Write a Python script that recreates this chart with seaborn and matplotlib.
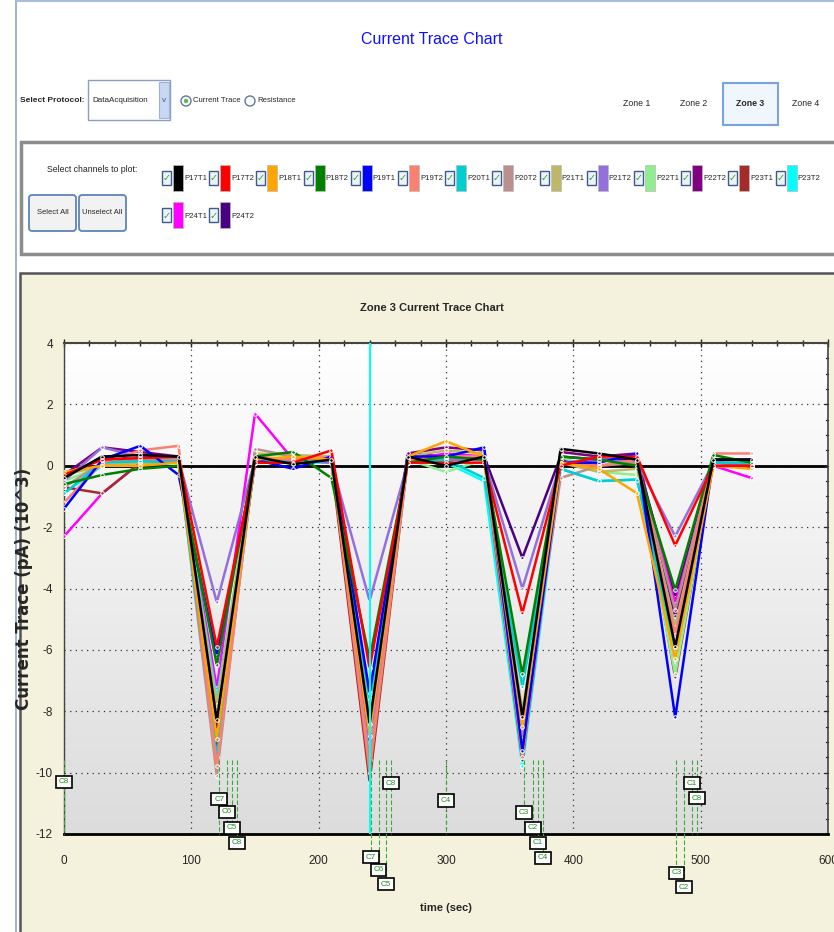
import numpy as np
import pandas as pd
import seaborn as sns
import matplotlib.pyplot as plt
from matplotlib.patches import Rectangle, FancyBboxPatch, Circle
from matplotlib.colors import LinearSegmentedColormap

# sample times (sec)
times = [0, 30, 60, 90, 120, 150, 180, 210, 240, 270, 300, 330, 360, 390, 420, 450, 480, 510, 540]

channels = ['P17T1', 'P17T2', 'P18T1', 'P18T2', 'P19T1', 'P19T2', 'P20T1', 'P20T2',
            'P21T1', 'P21T2', 'P22T1', 'P22T2', 'P23T1', 'P23T2', 'P24T1', 'P24T2']
colors = ['#000000', '#FF0000', '#FFA500', '#008000', '#0000FF', '#FA8072', '#00CED1', '#BC8F8F',
          '#BDB76B', '#9370DB', '#90EE90', '#800080', '#A52A2A', '#00FFFF', '#FF00FF', '#4B0082']

# current trace per channel (pA x 10^3)
p17t1 = [-0.4, 0.3, 0.35, 0.3, -8.3, 0.3, 0.05, 0.2, -8.4, 0.3, 0.0, 0.3, -8.2, 0.55, 0.4, 0.2, -5.9, 0.2, 0.2]
p17t2 = [-0.3, 0.2, 0.25, 0.3, -5.9, 0.1, 0.1, 0.5, -6.6, 0.1, 0.1, 0.1, -4.8, 0.0, 0.3, 0.3, -2.6, 0.0, 0.0]
p18t1 = [-0.2, 0.0, 0.0, 0.1, -8.9, 0.2, 0.3, 0.2, -8.8, 0.3, 0.8, 0.3, -8.5, 0.1, -0.1, -0.9, -6.3, 0.0, -0.1]
p18t2 = [-0.6, -0.3, -0.1, 0.0, -6.5, 0.3, 0.45, -0.4, -6.3, 0.1, 0.3, 0.2, -6.8, 0.3, 0.2, 0.0, -4.05, 0.35, 0.1]
p19t1 = [-1.4, 0.2, 0.65, -0.3, -6.2, 0.2, -0.1, 0.3, -7.4, 0.3, 0.3, 0.6, -9.3, 0.1, 0.1, 0.4, -8.2, 0.2, 0.2]
p19t2 = [-1.2, 0.1, 0.5, 0.65, -9.8, 0.3, 0.2, 0.3, -10.0, 0.2, 0.3, 0.3, -9.5, 0.1, 0.0, 0.2, -5.5, 0.4, 0.4]
p20t1 = [-0.9, 0.1, 0.15, 0.1, -9.5, 0.2, 0.1, 0.2, -7.6, 0.1, 0.2, -0.4, -7.2, -0.1, -0.5, -0.45, -6.0, 0.1, 0.1]
p20t2 = [-0.7, 0.1, 0.2, 0.2, -10.1, 0.55, 0.3, 0.2, -9.6, 0.2, 0.3, 0.3, -8.9, -0.4, 0.0, 0.1, -4.7, 0.2, 0.2]
p21t1 = [-0.3, 0.0, 0.1, 0.1, -7.8, 0.4, 0.35, 0.3, -8.1, 0.3, 0.5, 0.4, -8.0, 0.1, -0.2, -0.1, -5.25, 0.2, 0.1]
p21t2 = [-0.5, 0.6, 0.3, 0.2, -4.45, 0.2, 0.2, 0.1, -4.4, 0.1, 0.2, 0.2, -4.0, 0.1, 0.2, 0.1, -2.3, 0.1, 0.0]
p22t1 = [-0.5, 0.0, 0.1, 0.1, -8.0, 0.2, 0.2, 0.1, -8.6, 0.2, -0.2, 0.2, -8.7, 0.3, -0.2, -0.3, -6.8, 0.1, 0.0]
p22t2 = [-0.3, 0.6, 0.45, 0.3, -8.6, 0.1, 0.1, 0.2, -8.2, 0.4, 0.6, 0.5, -8.4, 0.45, 0.3, 0.4, -4.9, 0.1, 0.1]
p23t1 = [-0.7, -0.9, 0.1, 0.1, -9.2, 0.2, 0.2, 0.1, -10.3, 0.2, 0.2, 0.2, -9.6, 0.2, 0.0, 0.1, -6.9, 0.1, 0.1]
p23t2 = [-0.9, 0.0, 0.1, 0.1, -7.6, 0.1, 0.1, 0.1, -7.9, 0.1, 0.1, -0.5, -9.8, -0.1, -0.5, -0.45, -5.0, 0.1, 0.1]
p24t1 = [-2.3, -0.9, 0.1, 0.1, -7.25, 1.7, 0.2, 0.2, -9.0, 0.2, 0.4, 0.3, -8.6, 0.1, 0.2, 0.1, -4.5, 0.0, -0.4]
p24t2 = [-0.4, 0.3, 0.2, 0.2, -8.1, 0.2, 0.2, 0.1, -8.0, 0.4, 0.3, 0.3, -3.0, 0.3, 0.2, 0.2, -4.3, 0.1, 0.1]
traces = [p17t1, p17t2, p18t1, p18t2, p19t1, p19t2, p20t1, p20t2,
          p21t1, p21t2, p22t1, p22t2, p23t1, p23t2, p24t1, p24t2]

# cursor markers along the time axis
cursor_names = ['C8', 'C7', 'C6', 'C5', 'C8', 'C7', 'C6', 'C5', 'C8',
                'C4', 'C3', 'C2', 'C1', 'C4', 'C3', 'C2', 'C1', 'C8']
cursor_times = [0, 122, 128, 132, 136, 241, 247, 253, 257,
                300, 361, 368, 372, 376, 481, 487, 493, 497]
cursor_label_y = [-10.3, -10.86, -11.28, -11.8, -12.29, -12.75, -13.17, -13.63, -10.34,
                  -10.9, -11.3, -11.8, -12.29, -12.78, -13.27, -13.73, -10.34, -10.83]
selected_time = 240

zones = ['Zone 1', 'Zone 2', 'Zone 3', 'Zone 4']
active_zone = 'Zone 3'

sns.set_style('white')
plt.rcParams['font.family'] = ['Liberation Sans', 'DejaVu Sans']
plt.rcParams['axes.unicode_minus'] = False

fig = plt.figure(figsize=(8.34, 9.32), dpi=100)
fig.patch.set_facecolor('white')

# page furniture drawn in pixel coordinates
bg = fig.add_axes([0, 0, 1, 1], zorder=0)
bg.set_xlim(0, 834)
bg.set_ylim(932, 0)
bg.axis('off')

bg.plot([16, 16], [0, 932], color='#8FA8C8', lw=1.2)
bg.plot([16, 834], [1, 1], color='#A9BEDB', lw=1.5)
bg.text(432, 40, 'Current Trace Chart', color='#1010FF', fontsize=11.5, ha='center', va='center')

bg.text(20, 101, 'Select Protocol:', fontsize=6, fontweight='bold', ha='left', va='center')
bg.add_patch(Rectangle((88, 80), 82, 40, fc='white', ec='#8CA0BE', lw=1))
bg.add_patch(Rectangle((159, 82), 10, 36, fc='#C9D8F2', ec='#9DB3DA', lw=0.8))
bg.text(164, 101, 'v', fontsize=6, color='#3A5A9A', ha='center', va='center')
bg.text(92, 101, 'DataAcquisition', fontsize=5.8, ha='left', va='center')
bg.add_patch(Circle((186, 101), 5, fc='white', ec='#60789C', lw=1))
bg.add_patch(Circle((186, 101), 2.2, fc='#5DBB4A', ec='none'))
bg.text(193, 101, 'Current Trace', fontsize=5.6, ha='left', va='center')
bg.add_patch(Circle((250, 101), 5, fc='white', ec='#60789C', lw=1))
bg.text(257, 101, 'Resistance', fontsize=5.6, ha='left', va='center')

zone_x = [637, 694, 750, 806]
for zx, zname in zip(zone_x, zones):
    if zname == active_zone:
        bg.add_patch(Rectangle((723, 83), 55, 42, fc='#F0F6FE', ec='#7BA3DB', lw=1.5))
        bg.text(zx, 104, zname, fontsize=6.3, fontweight='bold', ha='center', va='center')
    else:
        bg.text(zx, 104, zname, fontsize=6.3, ha='center', va='center')

# channel selection panel
bg.add_patch(Rectangle((21, 142), 830, 112, fc='white', ec='#8C8C8C', lw=2.5))
bg.text(92, 170, 'Select channels to plot:', fontsize=6.3, ha='center', va='center')
for bx, bname in [(29, 'Select All'), (79, 'Unselect All')]:
    bg.add_patch(FancyBboxPatch((bx, 195), 47, 36, boxstyle='round,pad=0,rounding_size=3',
                                fc='#F2F2F2', ec='#5E84B8', lw=1.3))
    bg.text(bx + 23.5, 213, bname, fontsize=5.5, ha='center', va='center')

for i, (name, col) in enumerate(zip(channels, colors)):
    row, pos = divmod(i, 14)
    cx = 162 + pos * 47.2
    cy = 178 + row * 37
    bg.add_patch(Rectangle((cx, cy - 7), 9, 14, fc='#EEF3FA', ec='#3C5A8C', lw=1))
    bg.text(cx + 4.5, cy + 0.5, '\u2713', color='#2EA62E', fontsize=7, ha='center', va='center',
            family='DejaVu Sans')
    bg.add_patch(Rectangle((cx + 11, cy - 13), 10, 26, fc=col, ec='#BBBBBB', lw=0.5))
    bg.text(cx + 22, cy + 1, name, fontsize=5.6, ha='left', va='center')

# chart panel
bg.add_patch(Rectangle((20, 273), 830, 670, fc='#F4F2DC', ec='#555555', lw=1.8))
bg.text(432, 308, 'Zone 3 Current Trace Chart', fontsize=8, fontweight='bold', ha='center', va='center')

# chart axes
ax = fig.add_axes([64 / 834, 1 - 834 / 932, (828 - 64) / 834, (834 - 343) / 932], zorder=1)
grad = LinearSegmentedColormap.from_list('g', ['#FFFFFF', '#DCDCDC'])
ax.imshow(np.linspace(0, 1, 256).reshape(-1, 1), cmap=grad, extent=[0, 600, -12, 4],
          origin='upper', aspect='auto', zorder=0)

df = pd.DataFrame({
    'time': np.tile(times, len(channels)),
    'channel': np.repeat(channels, len(times)),
    'current': np.concatenate(traces),
})
palette = dict(zip(channels, colors))
ax.axhline(0, color='black', lw=2, zorder=1)
sns.lineplot(data=df, x='time', y='current', hue='channel', hue_order=channels[::-1],
             palette=palette, estimator=None, sort=False, legend=False, ax=ax,
             lw=1.8, marker='o', markersize=2.6, markerfacecolor='none', markeredgewidth=0.7,
             zorder=3)
ax.axvline(selected_time, color='#00FFFF', lw=1.5, zorder=4)

for name, t, ly in zip(cursor_names, cursor_times, cursor_label_y):
    ax.plot([t, t], [-9.6, min(ly, -12)], color='#3BAA3B', lw=0.8, ls=(0, (4, 2)),
            clip_on=False, zorder=5)
    ax.text(t, ly, name, color='#1E8E1E', fontsize=5.8, ha='center', va='center', clip_on=False,
            zorder=6, bbox=dict(boxstyle='square,pad=0.35', fc='white', ec='black', lw=1.2))

ax.set_xlim(0, 600)
ax.set_ylim(-12, 4)
ax.set_xticks(range(0, 601, 100))
ax.set_xticks(range(0, 601, 20), minor=True)
ax.set_yticks(range(-12, 5, 2))
ax.set_yticks(np.arange(-12, 4.01, 0.5), minor=True)
ax.grid(True, which='major', color='#333333', lw=0.9, ls=(0, (1, 3.5)))
ax.tick_params(axis='both', which='both', direction='inout', top=True, right=True,
               labelsize=8.5, color='#222222')
ax.tick_params(axis='y', which='both', right=False)
ax.tick_params(which='major', length=6, width=1)
ax.tick_params(which='minor', length=4, width=1)
ax.tick_params(axis='x', pad=12)
ax.tick_params(axis='y', pad=5)
# right-hand ticks point inward only
for v in np.arange(-12, 4.01, 0.5):
    ax.plot([600, 600 - (2.2 if v % 2 == 0 else 1.6)], [v, v], color='#222222', lw=1,
            clip_on=False, zorder=2)
for side, lw in [('bottom', 2), ('top', 1.5), ('left', 1), ('right', 1.2)]:
    ax.spines[side].set_visible(True)
    ax.spines[side].set_linewidth(lw)
    ax.spines[side].set_color('black' if side == 'bottom' else '#444444')

ax.set_xlabel('time (sec)', fontsize=8, fontweight='bold', labelpad=26)
ax.set_ylabel('Current Trace (pA) (10^3)', fontsize=12, fontweight='bold', labelpad=2,
              family='DejaVu Sans')

fig.savefig('out.png', dpi=100)
